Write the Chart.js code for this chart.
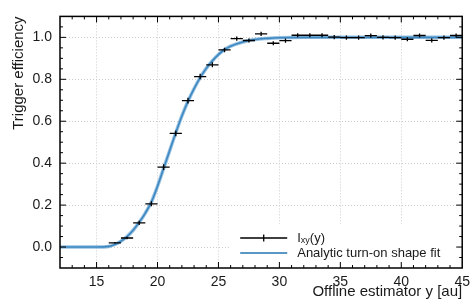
<!DOCTYPE html>
<html>
<head>
<meta charset="utf-8">
<script src="https://cdn.jsdelivr.net/npm/chart.js@4.4.0/dist/chart.umd.min.js"></script>
<style>
    html, body { margin: 0; padding: 0; background: #fff; }
</style>
</head>
<body>
<canvas id="effChart" width="476" height="303"></canvas>
<script>
// measured efficiency per bin (centre, value, stat. error)
const binCenters = [16.5, 17.5, 18.5, 19.5, 20.5, 21.5, 22.5, 23.5, 24.5, 25.5, 26.5, 27.5, 28.5, 29.5, 30.5,
    31.5, 32.5, 33.5, 34.5, 35.5, 36.5, 37.5, 38.5, 39.5, 40.5, 41.5, 42.5, 43.5, 44.5];
const efficiency = [0.020, 0.043, 0.115, 0.206, 0.381, 0.542, 0.698, 0.813, 0.869, 0.940, 0.994, 0.985, 1.017, 0.972, 0.984,
    1.010, 1.010, 1.010, 1.001, 0.999, 0.999, 1.008, 1.000, 0.999, 0.991, 1.009, 0.986, 0.999, 1.009];
const effErrors = [0.004, 0.006, 0.010, 0.012, 0.014, 0.014, 0.014, 0.013, 0.012, 0.011, 0.010, 0.010, 0.010, 0.010, 0.010,
    0.010, 0.010, 0.010, 0.010, 0.010, 0.010, 0.010, 0.010, 0.010, 0.010, 0.010, 0.010, 0.010, 0.010];

// analytic turn-on fit
const fitX = [12, 15, 16, 16.5, 17, 17.5, 18, 18.5, 19, 19.5, 20, 20.5, 21, 21.5, 22, 22.5, 23, 23.5, 24, 24.5,
    25, 25.5, 26, 27, 28, 29, 30, 32, 35, 45];
const fitY = [0, 0, 0.003, 0.012, 0.028, 0.05, 0.08, 0.118, 0.162, 0.215, 0.29, 0.375, 0.46, 0.545, 0.625, 0.695,
    0.755, 0.808, 0.852, 0.888, 0.918, 0.942, 0.958, 0.978, 0.99, 0.995, 0.998, 1.0, 1.0, 1.0];

const xTickValues = [15, 20, 25, 30, 35, 40, 45];
const yTickValues = [0.0, 0.2, 0.4, 0.6, 0.8, 1.0];

const FONT = "'Liberation Sans', Arial, sans-serif";
const TEXT = '#1a1a1a';
const FIT_COLOR = '#2474b0';

// black error-bar crosses
const errorBars = {
    id: 'errorBars',
    afterDatasetsDraw(chart) {
        const { ctx, scales: { x, y } } = chart;
        ctx.save();
        ctx.strokeStyle = '#000';
        ctx.lineWidth = 1.3;
        ctx.beginPath();
        binCenters.forEach((c, i) => {
            const py = y.getPixelForValue(efficiency[i]);
            const px = x.getPixelForValue(c);
            ctx.moveTo(x.getPixelForValue(c - 0.5), py);
            ctx.lineTo(x.getPixelForValue(c + 0.5), py);
            ctx.moveTo(px, y.getPixelForValue(efficiency[i] - effErrors[i]));
            ctx.lineTo(px, y.getPixelForValue(efficiency[i] + effErrors[i]));
        });
        ctx.stroke();
        ctx.restore();
    }
};

// closed frame with inward major/minor ticks on all sides, plus legend
const frameAndLegend = {
    id: 'frameAndLegend',
    afterDraw(chart) {
        const { ctx, chartArea: a, scales: { x, y } } = chart;
        ctx.save();

        // legend box (white, no frame)
        const lx = a.right - 233, ly = a.bottom - 44;
        ctx.fillStyle = '#fff';
        ctx.fillRect(lx, ly, 230, 40);
        const row1 = ly + 14, row2 = ly + 29;
        ctx.lineWidth = 1.3;
        ctx.strokeStyle = '#000';
        ctx.beginPath();
        ctx.moveTo(lx + 11, row1); ctx.lineTo(lx + 58, row1);
        ctx.moveTo(lx + 34.5, row1 - 3.5); ctx.lineTo(lx + 34.5, row1 + 3.5);
        ctx.stroke();
        ctx.strokeStyle = FIT_COLOR;
        ctx.lineWidth = 1.4;
        ctx.beginPath();
        ctx.moveTo(lx + 11, row2); ctx.lineTo(lx + 58, row2);
        ctx.stroke();

        ctx.fillStyle = TEXT;
        ctx.textBaseline = 'middle';
        ctx.textAlign = 'left';
        ctx.font = '13px ' + FONT;
        let tx = lx + 68;
        ctx.fillText('I', tx, row1);
        tx += ctx.measureText('I').width;
        ctx.font = '9px ' + FONT;
        ctx.fillText('xy', tx, row1 + 3);
        tx += ctx.measureText('xy').width;
        ctx.font = '13px ' + FONT;
        ctx.fillText('(y)', tx, row1);
        ctx.fillText('Analytic turn-on shape fit', lx + 68, row2);

        // frame
        ctx.strokeStyle = '#000';
        ctx.lineWidth = 1.5;
        ctx.strokeRect(a.left, a.top, a.right - a.left, a.bottom - a.top);

        // ticks
        ctx.lineWidth = 1;
        ctx.beginPath();
        for (let v = 13; v <= 44; v++) {
            const px = x.getPixelForValue(v);
            const len = v % 5 === 0 ? 6 : 3;
            ctx.moveTo(px, a.bottom); ctx.lineTo(px, a.bottom - len);
            ctx.moveTo(px, a.top); ctx.lineTo(px, a.top + len);
        }
        for (let k = -1; k <= 21; k++) {
            const py = y.getPixelForValue(k * 0.05);
            const len = k % 4 === 0 ? 6 : 3;
            ctx.moveTo(a.left, py); ctx.lineTo(a.left + len, py);
            ctx.moveTo(a.right, py); ctx.lineTo(a.right - len, py);
        }
        ctx.stroke();
        ctx.restore();
    }
};

const fitPoints = fitX.map((v, i) => ({ x: v, y: fitY[i] }));

new Chart(document.getElementById('effChart'), {
    type: 'scatter',
    data: {
        datasets: [
            {
                label: 'fit band',
                data: fitPoints,
                showLine: true,
                borderColor: 'rgba(80, 150, 205, 0.6)',
                borderWidth: 3.5,
                pointRadius: 0,
                cubicInterpolationMode: 'monotone'
            },
            {
                label: 'Analytic turn-on shape fit',
                data: fitPoints,
                showLine: true,
                borderColor: FIT_COLOR,
                borderWidth: 1.6,
                pointRadius: 0,
                cubicInterpolationMode: 'monotone'
            },
            {
                label: 'Ixy(y)',
                data: binCenters.map((c, i) => ({ x: c, y: efficiency[i] })),
                pointRadius: 0
            }
        ]
    },
    options: {
        responsive: false,
        animation: false,
        devicePixelRatio: 1,
        layout: { padding: { top: 10, right: 11, left: 0, bottom: 0 } },
        plugins: {
            legend: { display: false },
            tooltip: { enabled: false }
        },
        scales: {
            x: {
                type: 'linear',
                min: 12,
                max: 45,
                afterBuildTicks: s => { s.ticks = xTickValues.map(v => ({ value: v })); },
                afterFit: s => { s.height = 35; },
                ticks: {
                    padding: 6,
                    autoSkip: false,
                    maxRotation: 0,
                    color: TEXT,
                    font: { family: FONT, size: 14 },
                    callback: v => String(v)
                },
                grid: { color: '#cccccc', lineWidth: 1, drawTicks: false },
                border: { display: false, dash: [1, 2] },
                title: {
                    display: true,
                    text: 'Offline estimator y [au]',
                    align: 'end',
                    color: TEXT,
                    padding: { top: 0, bottom: 2 },
                    font: { family: FONT, size: 15 }
                }
            },
            y: {
                type: 'linear',
                min: -0.1,
                max: 1.1,
                afterBuildTicks: s => { s.ticks = yTickValues.map(v => ({ value: v })); },
                afterFit: s => { s.width = 60; },
                ticks: {
                    padding: 8,
                    color: TEXT,
                    font: { family: FONT, size: 14 },
                    callback: v => Number(v).toFixed(1)
                },
                grid: { color: '#cccccc', lineWidth: 1, drawTicks: false },
                border: { display: false, dash: [1, 2] },
                title: {
                    display: true,
                    text: 'Trigger efficiency',
                    align: 'end',
                    color: TEXT,
                    padding: { top: 10, bottom: 0 },
                    font: { family: FONT, size: 15 }
                }
            }
        }
    },
    plugins: [errorBars, frameAndLegend]
});
</script>
</body>
</html>
